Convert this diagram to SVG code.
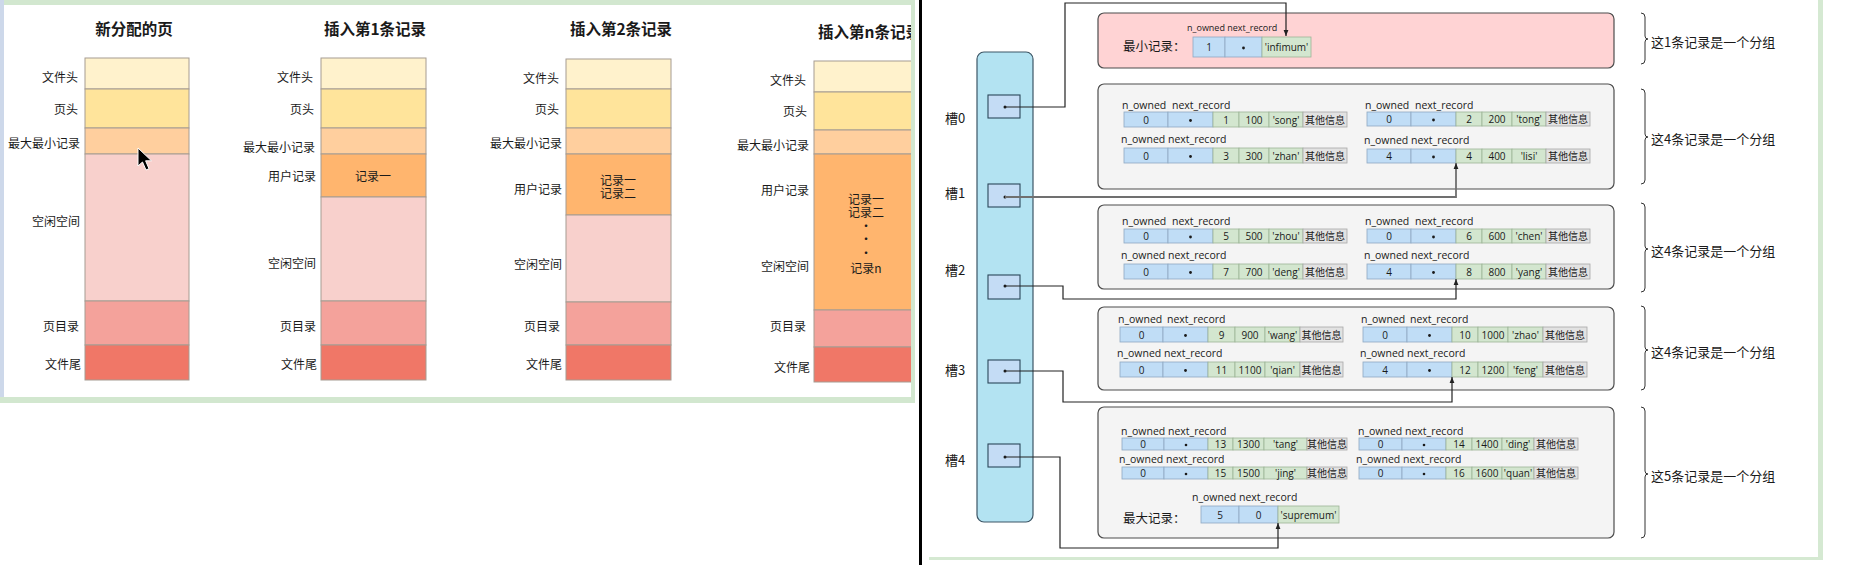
<svg xmlns="http://www.w3.org/2000/svg" width="1858" height="565" viewBox="0 0 1858 565">
<defs>
<style>
text{dominant-baseline:central;fill:#1a1a1a}
.cjk{font-family:"Noto Sans CJK SC",sans-serif}
.ttl{font-family:"Noto Sans CJK SC",sans-serif;font-size:15.5px;font-weight:bold;text-anchor:middle}
.lt{font-family:"Noto Sans CJK SC",sans-serif;font-size:12px;text-anchor:end}
.in{font-family:"Noto Sans CJK SC",sans-serif;font-size:12px;text-anchor:middle}
.pg rect{stroke:#a69c92;stroke-width:1}
.fh{fill:#fff2cc}.ph{fill:#ffe49b}.mm{fill:#ffcf9e}.ur{fill:#ffb56e}.fr{fill:#f8d0cc}.dr{fill:#f4a29b}.tl{fill:#f07767}
.col{fill:#b3e3f2;stroke:#3d5666;stroke-width:1.2}
.sb{fill:#c4dcf5;stroke:#2b475a;stroke-width:1.1}
.grp{fill:#f4f4f4;stroke:#4d4d4d;stroke-width:1.2}
.grp0{fill:#ffd3d4;stroke:#4d4d4d;stroke-width:1.2}
.b{fill:#c0ddf6;stroke:#8fa9c2;stroke-width:.8}
.g{fill:#d3e6cf;stroke:#9db597;stroke-width:.8}
.o{fill:#e2e2e2;stroke:#a8a8a8;stroke-width:.8}
.rt{font-family:"Open Sans","Noto Sans CJK SC",sans-serif;font-size:10px;text-anchor:middle}
.rl{font-family:"Open Sans",sans-serif;font-size:10.5px}
.sl{font-family:"Noto Sans CJK SC",sans-serif;font-size:13px}
.bt{font-family:"Noto Sans CJK SC",sans-serif;font-size:13px}
.dot{fill:#1a1a1a}
.br{fill:none;stroke:#333;stroke-width:1}
.cn{fill:none;stroke:#222;stroke-width:1.2}
</style>
<clipPath id="lp"><rect x="4" y="5" width="907" height="392"/></clipPath>
<marker id="ah" viewBox="0 0 6 6" refX="6" refY="3" markerWidth="6" markerHeight="6" markerUnits="userSpaceOnUse" orient="auto"><path d="M0,0.6 L6,3 L0,5.4z" fill="#222"/></marker>
</defs>
<rect width="1858" height="565" fill="#ffffff"/>

<!-- panel frames -->
<rect x="0" y="0" width="915" height="5" fill="#d2e7cf"/>
<rect x="0" y="0" width="4" height="403" fill="#cdd8ea"/>
<rect x="911" y="0" width="4" height="403" fill="#d2e7cf"/>
<rect x="0" y="397" width="915" height="6" fill="#d2e7cf"/>
<rect x="919" y="0" width="3" height="565" fill="#000"/>
<rect x="1818" y="0" width="5" height="560" fill="#d5e9d2"/>
<rect x="929" y="557" width="894" height="3" fill="#d5e9d2"/>

<g clip-path="url(#lp)">
<g id="page-new" class="pg">
<text class="ttl" x="134" y="28">新分配的页</text>
<rect class="fh" x="85" y="58" width="104" height="31"/>
<rect class="ph" x="85" y="89" width="104" height="39"/>
<rect class="mm" x="85" y="128" width="104" height="26"/>
<rect class="fr" x="85" y="154" width="104" height="147"/>
<rect class="dr" x="85" y="301" width="104" height="44"/>
<rect class="tl" x="85" y="345" width="104" height="35"/>
<text class="lt" x="78" y="76">文件头</text>
<text class="lt" x="78" y="108">页头</text>
<text class="lt" x="80" y="142">最大最小记录</text>
<text class="lt" x="80" y="220">空闲空间</text>
<text class="lt" x="79" y="325">页目录</text>
<text class="lt" x="81" y="363">文件尾</text>
</g>
<g id="page-1" class="pg">
<text class="ttl" x="375" y="28">插入第1条记录</text>
<rect class="fh" x="321" y="58" width="105" height="31"/>
<rect class="ph" x="321" y="89" width="105" height="39"/>
<rect class="mm" x="321" y="128" width="105" height="26"/>
<rect class="ur" x="321" y="154" width="105" height="43"/>
<rect class="fr" x="321" y="197" width="105" height="104"/>
<rect class="dr" x="321" y="301" width="105" height="44"/>
<rect class="tl" x="321" y="345" width="105" height="35"/>
<text class="in" x="373" y="175">记录一</text>
<text class="lt" x="313" y="76">文件头</text>
<text class="lt" x="314" y="108">页头</text>
<text class="lt" x="315" y="146">最大最小记录</text>
<text class="lt" x="316" y="175">用户记录</text>
<text class="lt" x="316" y="262">空闲空间</text>
<text class="lt" x="316" y="325">页目录</text>
<text class="lt" x="317" y="363">文件尾</text>
</g>
<g id="page-2" class="pg">
<text class="ttl" x="621" y="28">插入第2条记录</text>
<rect class="fh" x="566" y="59" width="105" height="30"/>
<rect class="ph" x="566" y="89" width="105" height="39"/>
<rect class="mm" x="566" y="128" width="105" height="26"/>
<rect class="ur" x="566" y="154" width="105" height="61"/>
<rect class="fr" x="566" y="215" width="105" height="87"/>
<rect class="dr" x="566" y="302" width="105" height="43"/>
<rect class="tl" x="566" y="345" width="105" height="35"/>
<text class="in" x="618" y="179"><tspan x="618" y="179">记录一</tspan><tspan x="618" y="192">记录二</tspan></text>
<text class="lt" x="559" y="77">文件头</text>
<text class="lt" x="559" y="108">页头</text>
<text class="lt" x="562" y="142">最大最小记录</text>
<text class="lt" x="562" y="188">用户记录</text>
<text class="lt" x="562" y="263">空闲空间</text>
<text class="lt" x="560" y="325">页目录</text>
<text class="lt" x="562" y="363">文件尾</text>
</g>
<g id="page-n" class="pg">
<text class="ttl" x="818" y="31" style="text-anchor:start">插入第n条记录</text>
<rect class="fh" x="814" y="61" width="105" height="31"/>
<rect class="ph" x="814" y="92" width="105" height="38"/>
<rect class="mm" x="814" y="130" width="105" height="24"/>
<rect class="ur" x="814" y="154" width="105" height="156"/>
<rect class="dr" x="814" y="310" width="105" height="37"/>
<rect class="tl" x="814" y="347" width="105" height="35"/>
<text class="in" x="866" y="198"><tspan x="866" y="198">记录一</tspan><tspan x="866" y="211">记录二</tspan><tspan x="866" y="225">·</tspan><tspan x="866" y="238">·</tspan><tspan x="866" y="252">·</tspan><tspan x="866" y="267">记录n</tspan></text>
<text class="lt" x="806" y="79">文件头</text>
<text class="lt" x="807" y="110">页头</text>
<text class="lt" x="809" y="144">最大最小记录</text>
<text class="lt" x="809" y="189">用户记录</text>
<text class="lt" x="809" y="265">空闲空间</text>
<text class="lt" x="806" y="325">页目录</text>
<text class="lt" x="810" y="366">文件尾</text>
</g>
<path d="M138,148 L138,166 L142.5,162 L146,170 L149,168.7 L145.6,160.8 L151.5,160.8 Z" fill="#000" stroke="#fff" stroke-width="1"/>
</g>

<!-- right panel -->
<g id="slots">
<rect class="col" x="977" y="52" width="56" height="470" rx="7"/>
</g>
<g id="slot0"><text class="sl" x="945" y="117">槽0</text><rect class="sb" x="988" y="95" width="32" height="23"/><circle class="dot" cx="1005" cy="107" r="1.5"/></g>
<g id="slot1"><text class="sl" x="945" y="192">槽1</text><rect class="sb" x="988" y="184" width="32" height="23"/><circle class="dot" cx="1005" cy="197" r="1.5"/></g>
<g id="slot2"><text class="sl" x="945" y="269">槽2</text><rect class="sb" x="988" y="275" width="32" height="24"/><circle class="dot" cx="1005" cy="286" r="1.5"/></g>
<g id="slot3"><text class="sl" x="945" y="369">槽3</text><rect class="sb" x="988" y="360" width="32" height="23"/><circle class="dot" cx="1005" cy="371" r="1.5"/></g>
<g id="slot4"><text class="sl" x="945" y="459">槽4</text><rect class="sb" x="988" y="444" width="32" height="23"/><circle class="dot" cx="1005" cy="457" r="1.5"/></g>

<g id="group0">
<rect class="grp0" x="1098" y="13" width="516" height="55" rx="6"/>
<text class="rl" x="1187" y="27" style="font-size:9px">n_owned next_record</text>
<text class="cjk" x="1123" y="45" style="font-size:12.5px">最小记录：</text>
<rect class="b" x="1193" y="37" width="32" height="20"/>
<rect class="b" x="1225" y="37" width="37" height="20"/>
<rect class="g" x="1262" y="37" width="49" height="20"/>
<text class="rt" x="1209" y="47">1</text>
<circle class="dot" cx="1243.5" cy="48" r="1.4"/>
<text class="rt" x="1286.5" y="47">'infimum'</text>
</g>

<g id="group1">
<rect class="grp" x="1098" y="84" width="516" height="105" rx="6"/>
<g id="rec-song" transform="translate(1124,112)">
<text class="rl" x="-2" y="-7">n_owned</text><text class="rl" x="48" y="-7">next_record</text>
<rect class="b" width="44" height="15"/><rect class="b" x="44" width="45" height="15"/><rect class="g" x="89" width="26" height="15"/><rect class="g" x="115" width="30" height="15"/><rect class="g" x="145" width="34" height="15"/><rect class="o" x="179" width="44" height="15"/>
<text class="rt" x="22" y="7.5">0</text><circle class="dot" cx="66.5" cy="8.5" r="1.4"/><text class="rt" x="102" y="7.5">1</text><text class="rt" x="130" y="7.5">100</text><text class="rt" x="162" y="7.5">'song'</text><text class="rt" x="201" y="7.5">其他信息</text>
</g>
<g id="rec-tong" transform="translate(1367,112)">
<text class="rl" x="-2" y="-7">n_owned</text><text class="rl" x="48" y="-7">next_record</text>
<rect class="b" width="44" height="14"/><rect class="b" x="44" width="45" height="14"/><rect class="g" x="89" width="26" height="14"/><rect class="g" x="115" width="30" height="14"/><rect class="g" x="145" width="34" height="14"/><rect class="o" x="179" width="44" height="14"/>
<text class="rt" x="22" y="7">0</text><circle class="dot" cx="66.5" cy="8" r="1.4"/><text class="rt" x="102" y="7">2</text><text class="rt" x="130" y="7">200</text><text class="rt" x="162" y="7">'tong'</text><text class="rt" x="201" y="7">其他信息</text>
</g>
<g id="rec-zhan" transform="translate(1124,148)">
<text class="rl" x="-3" y="-9">n_owned</text><text class="rl" x="44" y="-9">next_record</text>
<rect class="b" width="44" height="15"/><rect class="b" x="44" width="45" height="15"/><rect class="g" x="89" width="26" height="15"/><rect class="g" x="115" width="30" height="15"/><rect class="g" x="145" width="34" height="15"/><rect class="o" x="179" width="44" height="15"/>
<text class="rt" x="22" y="7.5">0</text><circle class="dot" cx="66.5" cy="8.5" r="1.4"/><text class="rt" x="102" y="7.5">3</text><text class="rt" x="130" y="7.5">300</text><text class="rt" x="162" y="7.5">'zhan'</text><text class="rt" x="201" y="7.5">其他信息</text>
</g>
<g id="rec-lisi" transform="translate(1367,149)">
<text class="rl" x="-3" y="-9">n_owned</text><text class="rl" x="44" y="-9">next_record</text>
<rect class="b" width="44" height="14"/><rect class="b" x="44" width="45" height="14"/><rect class="g" x="89" width="26" height="14"/><rect class="g" x="115" width="30" height="14"/><rect class="g" x="145" width="34" height="14"/><rect class="o" x="179" width="44" height="14"/>
<text class="rt" x="22" y="7">4</text><circle class="dot" cx="66.5" cy="8" r="1.4"/><text class="rt" x="102" y="7">4</text><text class="rt" x="130" y="7">400</text><text class="rt" x="162" y="7">'lisi'</text><text class="rt" x="201" y="7">其他信息</text>
</g>
</g>

<g id="group2">
<rect class="grp" x="1098" y="205" width="516" height="84" rx="6"/>
<g id="rec-zhou" transform="translate(1124,229)">
<text class="rl" x="-2" y="-8">n_owned</text><text class="rl" x="48" y="-8">next_record</text>
<rect class="b" width="44" height="14"/><rect class="b" x="44" width="45" height="14"/><rect class="g" x="89" width="26" height="14"/><rect class="g" x="115" width="30" height="14"/><rect class="g" x="145" width="34" height="14"/><rect class="o" x="179" width="44" height="14"/>
<text class="rt" x="22" y="7">0</text><circle class="dot" cx="66.5" cy="8" r="1.4"/><text class="rt" x="102" y="7">5</text><text class="rt" x="130" y="7">500</text><text class="rt" x="162" y="7">'zhou'</text><text class="rt" x="201" y="7">其他信息</text>
</g>
<g id="rec-chen" transform="translate(1367,229)">
<text class="rl" x="-2" y="-8">n_owned</text><text class="rl" x="48" y="-8">next_record</text>
<rect class="b" width="44" height="14"/><rect class="b" x="44" width="45" height="14"/><rect class="g" x="89" width="26" height="14"/><rect class="g" x="115" width="30" height="14"/><rect class="g" x="145" width="34" height="14"/><rect class="o" x="179" width="44" height="14"/>
<text class="rt" x="22" y="7">0</text><circle class="dot" cx="66.5" cy="8" r="1.4"/><text class="rt" x="102" y="7">6</text><text class="rt" x="130" y="7">600</text><text class="rt" x="162" y="7">'chen'</text><text class="rt" x="201" y="7">其他信息</text>
</g>
<g id="rec-deng" transform="translate(1124,264)">
<text class="rl" x="-3" y="-9">n_owned</text><text class="rl" x="44" y="-9">next_record</text>
<rect class="b" width="44" height="15"/><rect class="b" x="44" width="45" height="15"/><rect class="g" x="89" width="26" height="15"/><rect class="g" x="115" width="30" height="15"/><rect class="g" x="145" width="34" height="15"/><rect class="o" x="179" width="44" height="15"/>
<text class="rt" x="22" y="7.5">0</text><circle class="dot" cx="66.5" cy="8.5" r="1.4"/><text class="rt" x="102" y="7.5">7</text><text class="rt" x="130" y="7.5">700</text><text class="rt" x="162" y="7.5">'deng'</text><text class="rt" x="201" y="7.5">其他信息</text>
</g>
<g id="rec-yang" transform="translate(1367,264)">
<text class="rl" x="-3" y="-9">n_owned</text><text class="rl" x="44" y="-9">next_record</text>
<rect class="b" width="44" height="15"/><rect class="b" x="44" width="45" height="15"/><rect class="g" x="89" width="26" height="15"/><rect class="g" x="115" width="30" height="15"/><rect class="g" x="145" width="34" height="15"/><rect class="o" x="179" width="44" height="15"/>
<text class="rt" x="22" y="7.5">4</text><circle class="dot" cx="66.5" cy="8.5" r="1.4"/><text class="rt" x="102" y="7.5">8</text><text class="rt" x="130" y="7.5">800</text><text class="rt" x="162" y="7.5">'yang'</text><text class="rt" x="201" y="7.5">其他信息</text>
</g>
</g>

<g id="group3">
<rect class="grp" x="1098" y="307" width="516" height="83" rx="6"/>
<g id="rec-wang" transform="translate(1120,327)">
<text class="rl" x="-2" y="-8">n_owned</text><text class="rl" x="47" y="-8">next_record</text>
<rect class="b" width="43" height="15"/><rect class="b" x="43" width="45" height="15"/><rect class="g" x="88" width="27" height="15"/><rect class="g" x="115" width="30" height="15"/><rect class="g" x="145" width="35" height="15"/><rect class="o" x="180" width="43" height="15"/>
<text class="rt" x="21.5" y="7.5">0</text><circle class="dot" cx="65.5" cy="8.5" r="1.4"/><text class="rt" x="101.5" y="7.5">9</text><text class="rt" x="130" y="7.5">900</text><text class="rt" x="162.5" y="7.5">'wang'</text><text class="rt" x="201.5" y="7.5">其他信息</text>
</g>
<g id="rec-zhao" transform="translate(1363,327)">
<text class="rl" x="-2" y="-8">n_owned</text><text class="rl" x="47" y="-8">next_record</text>
<rect class="b" width="44" height="15"/><rect class="b" x="44" width="45" height="15"/><rect class="g" x="89" width="26" height="15"/><rect class="g" x="115" width="30" height="15"/><rect class="g" x="145" width="35" height="15"/><rect class="o" x="180" width="44" height="15"/>
<text class="rt" x="22" y="7.5">0</text><circle class="dot" cx="66.5" cy="8.5" r="1.4"/><text class="rt" x="102" y="7.5">10</text><text class="rt" x="130" y="7.5">1000</text><text class="rt" x="162.5" y="7.5">'zhao'</text><text class="rt" x="202" y="7.5">其他信息</text>
</g>
<g id="rec-qian" transform="translate(1120,362)">
<text class="rl" x="-3" y="-9">n_owned</text><text class="rl" x="44" y="-9">next_record</text>
<rect class="b" width="43" height="15"/><rect class="b" x="43" width="45" height="15"/><rect class="g" x="88" width="27" height="15"/><rect class="g" x="115" width="30" height="15"/><rect class="g" x="145" width="35" height="15"/><rect class="o" x="180" width="43" height="15"/>
<text class="rt" x="21.5" y="7.5">0</text><circle class="dot" cx="65.5" cy="8.5" r="1.4"/><text class="rt" x="101.5" y="7.5">11</text><text class="rt" x="130" y="7.5">1100</text><text class="rt" x="162.5" y="7.5">'qian'</text><text class="rt" x="201.5" y="7.5">其他信息</text>
</g>
<g id="rec-feng" transform="translate(1363,362)">
<text class="rl" x="-3" y="-9">n_owned</text><text class="rl" x="44" y="-9">next_record</text>
<rect class="b" width="44" height="15"/><rect class="b" x="44" width="45" height="15"/><rect class="g" x="89" width="26" height="15"/><rect class="g" x="115" width="30" height="15"/><rect class="g" x="145" width="35" height="15"/><rect class="o" x="180" width="44" height="15"/>
<text class="rt" x="22" y="7.5">4</text><circle class="dot" cx="66.5" cy="8.5" r="1.4"/><text class="rt" x="102" y="7.5">12</text><text class="rt" x="130" y="7.5">1200</text><text class="rt" x="162.5" y="7.5">'feng'</text><text class="rt" x="202" y="7.5">其他信息</text>
</g>
</g>

<g id="group4">
<rect class="grp" x="1098" y="407" width="516" height="131" rx="6"/>
<g id="rec-tang" transform="translate(1122,438)">
<text class="rl" x="-1" y="-7">n_owned</text><text class="rl" x="46" y="-7">next_record</text>
<rect class="b" width="42" height="12"/><rect class="b" x="42" width="44" height="12"/><rect class="g" x="86" width="25" height="12"/><rect class="g" x="111" width="31" height="12"/><rect class="g" x="142" width="43" height="12"/><rect class="o" x="185" width="40" height="12"/>
<text class="rt" x="21" y="6">0</text><circle class="dot" cx="64" cy="7" r="1.3"/><text class="rt" x="98.5" y="6">13</text><text class="rt" x="126.5" y="6">1300</text><text class="rt" x="163.5" y="6">'tang'</text><text class="rt" x="205" y="6">其他信息</text>
</g>
<g id="rec-ding" transform="translate(1359,438)">
<text class="rl" x="-1" y="-7">n_owned</text><text class="rl" x="46" y="-7">next_record</text>
<rect class="b" width="43" height="12"/><rect class="b" x="43" width="44" height="12"/><rect class="g" x="87" width="26" height="12"/><rect class="g" x="113" width="30" height="12"/><rect class="g" x="143" width="32" height="12"/><rect class="o" x="175" width="44" height="12"/>
<text class="rt" x="21.5" y="6">0</text><circle class="dot" cx="65" cy="7" r="1.3"/><text class="rt" x="100" y="6">14</text><text class="rt" x="128" y="6">1400</text><text class="rt" x="159" y="6">'ding'</text><text class="rt" x="197" y="6">其他信息</text>
</g>
<g id="rec-jing" transform="translate(1122,467)">
<text class="rl" x="-3" y="-8">n_owned</text><text class="rl" x="44" y="-8">next_record</text>
<rect class="b" width="42" height="12"/><rect class="b" x="42" width="44" height="12"/><rect class="g" x="86" width="25" height="12"/><rect class="g" x="111" width="31" height="12"/><rect class="g" x="142" width="43" height="12"/><rect class="o" x="185" width="40" height="12"/>
<text class="rt" x="21" y="6">0</text><circle class="dot" cx="64" cy="7" r="1.3"/><text class="rt" x="98.5" y="6">15</text><text class="rt" x="126.5" y="6">1500</text><text class="rt" x="163.5" y="6">'jing'</text><text class="rt" x="205" y="6">其他信息</text>
</g>
<g id="rec-quan" transform="translate(1359,467)">
<text class="rl" x="-3" y="-8">n_owned</text><text class="rl" x="44" y="-8">next_record</text>
<rect class="b" width="43" height="12"/><rect class="b" x="43" width="44" height="12"/><rect class="g" x="87" width="26" height="12"/><rect class="g" x="113" width="30" height="12"/><rect class="g" x="143" width="32" height="12"/><rect class="o" x="175" width="44" height="12"/>
<text class="rt" x="21.5" y="6">0</text><circle class="dot" cx="65" cy="7" r="1.3"/><text class="rt" x="100" y="6">16</text><text class="rt" x="128" y="6">1600</text><text class="rt" x="159" y="6">'quan'</text><text class="rt" x="197" y="6">其他信息</text>
</g>
<g id="rec-supremum">
<text class="rl" x="1192" y="497">n_owned</text><text class="rl" x="1239" y="497">next_record</text>
<text class="cjk" x="1123" y="517" style="font-size:12.5px">最大记录：</text>
<rect class="b" x="1201" y="506" width="38" height="17"/>
<rect class="b" x="1239" y="506" width="39" height="17"/>
<rect class="g" x="1278" y="506" width="61" height="17"/>
<text class="rt" x="1220" y="514.5">5</text>
<text class="rt" x="1258.5" y="514.5">0</text>
<text class="rt" x="1308.5" y="514.5">'supremum'</text>
</g>
</g>

<g id="connectors">
<path class="cn" d="M1005,107 H1065 V3 H1286 V36" marker-end="url(#ah)"/>
<path class="cn" d="M1005,197 H1456 V163" style="stroke:#707070;stroke-width:1.8" marker-end="url(#ah)"/>
<path class="cn" d="M1005,286 H1063 V299 H1456 V279" marker-end="url(#ah)"/>
<path class="cn" d="M1005,371 H1063 V402 H1452 V377" marker-end="url(#ah)"/>
<path class="cn" d="M1005,457 H1060 V548 H1278 V523" marker-end="url(#ah)"/>
</g>

<g id="brace0"><path class="br" d="M1641,13 Q1645,13 1645,17 V36 Q1645,39 1648,39 Q1645,39 1645,42 V60 Q1645,64 1641,64"/><text class="bt" x="1651" y="41">这1条记录是一个分组</text></g>
<g id="brace1"><path class="br" d="M1641,89 Q1645,89 1645,93 V134 Q1645,137 1648,137 Q1645,137 1645,140 V180 Q1645,184 1641,184"/><text class="bt" x="1651" y="138">这4条记录是一个分组</text></g>
<g id="brace2"><path class="br" d="M1641,203 Q1645,203 1645,207 V246 Q1645,249 1648,249 Q1645,249 1645,252 V288 Q1645,292 1641,292"/><text class="bt" x="1651" y="250">这4条记录是一个分组</text></g>
<g id="brace3"><path class="br" d="M1641,306 Q1645,306 1645,310 V347 Q1645,350 1648,350 Q1645,350 1645,353 V386 Q1645,390 1641,390"/><text class="bt" x="1651" y="351">这4条记录是一个分组</text></g>
<g id="brace4"><path class="br" d="M1641,407 Q1645,407 1645,411 V471 Q1645,474 1648,474 Q1645,474 1645,477 V534 Q1645,538 1641,538"/><text class="bt" x="1651" y="475">这5条记录是一个分组</text></g>
</svg>
